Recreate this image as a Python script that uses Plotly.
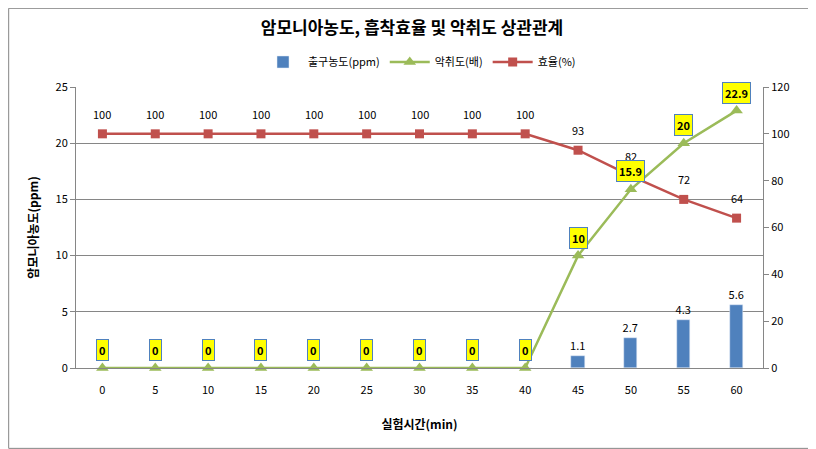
import plotly.graph_objects as go

minutes = [0, 5, 10, 15, 20, 25, 30, 35, 40, 45, 50, 55, 60]
outlet_ppm = [0, 0, 0, 0, 0, 0, 0, 0, 0, 1.1, 2.7, 4.3, 5.6]
odor = [0, 0, 0, 0, 0, 0, 0, 0, 0, 10, 15.9, 20, 22.9]
efficiency = [100, 100, 100, 100, 100, 100, 100, 100, 100, 93, 82, 72, 64]

FONT = "Noto Sans CJK KR, DejaVu Sans, sans-serif"

fig = go.Figure()
fig.add_trace(go.Bar(
    x=minutes, y=outlet_ppm, name='출구농도(ppm)',
    marker=dict(color='#4f81bd'), width=1.25,
    text=[str(v) if v else "" for v in outlet_ppm],
    textposition='outside', textfont=dict(size=11, color='black'),
    constraintext='none', cliponaxis=False, legendrank=1,
))
# red drawn first so the green line sits on top, as in the original
fig.add_trace(go.Scatter(
    x=minutes, y=efficiency, name='효율(%)', mode='lines+markers',
    line=dict(color='#c0504d', width=2.5),
    marker=dict(symbol='square', size=9, color='#c0504d'),
    yaxis='y2', cliponaxis=False, legendrank=3,
))
fig.add_trace(go.Scatter(
    x=minutes, y=odor, name='악취도(배)', mode='lines+markers',
    line=dict(color='#9bbb59', width=2.5),
    marker=dict(symbol='triangle-up', size=11, color='#9bbb59'),
    cliponaxis=False, legendrank=2,
))

# plain labels for 효율, on the right axis
for m, v in zip(minutes, efficiency):
    fig.add_annotation(
        x=m, y=v, yref='y2', text=str(v), showarrow=False, yshift=20,
        font=dict(size=11, color='black', family=FONT),
    )

# yellow boxed labels for 악취도
for m, v in zip(minutes, odor):
    fig.add_annotation(
        x=m, y=v, text=f"<b>{v:g}</b>", showarrow=False, yshift=18,
        font=dict(size=11, color='black', family=FONT),
        bgcolor='#ffff00', bordercolor='#4f81bd', borderwidth=1, borderpad=2,
    )

fig.update_layout(
    width=808, height=441,
    margin=dict(l=68, r=53, t=79, b=81),
    paper_bgcolor='white', plot_bgcolor='white',
    font=dict(family=FONT, size=11, color='black'),
    title=dict(text='<b>암모니아농도, 흡착효율 및 악취도 상관관계</b>',
               x=0.5, xanchor='center', y=0.955, yanchor='middle',
               font=dict(size=17)),
    legend=dict(orientation='h', x=0.5, xanchor='center', y=1.089, yanchor='middle',
                font=dict(size=11), itemwidth=40, traceorder='normal'),
    xaxis=dict(range=[-2.5, 62.5], tickvals=minutes,
               title=dict(text='<b>실험시간(min)</b>', font=dict(size=12), standoff=24),
               showline=True, linecolor='#868686', ticks='', ticklabelstandoff=12,
               showgrid=False, zeroline=False),
    yaxis=dict(title=dict(text='<b>암모니아농도(ppm)</b>', font=dict(size=12), standoff=14),
               range=[0, 25], dtick=5, showline=True, linecolor='#868686',
               ticks='outside', ticklen=5, tickcolor='#868686',
               gridcolor='#868686', gridwidth=1, zeroline=False),
    yaxis2=dict(overlaying='y', side='right', range=[0, 120], dtick=20,
                showline=True, linecolor='#868686', ticks='outside', ticklen=5,
                tickcolor='#868686', showgrid=False, zeroline=False),
    shapes=[dict(type='rect', xref='paper', yref='paper', x0=-0.098, x1=1.074,
                 y0=-0.286, y1=1.28, line=dict(color='#868686', width=1))],
    bargap=0,
)

fig.write_html("out.html")
